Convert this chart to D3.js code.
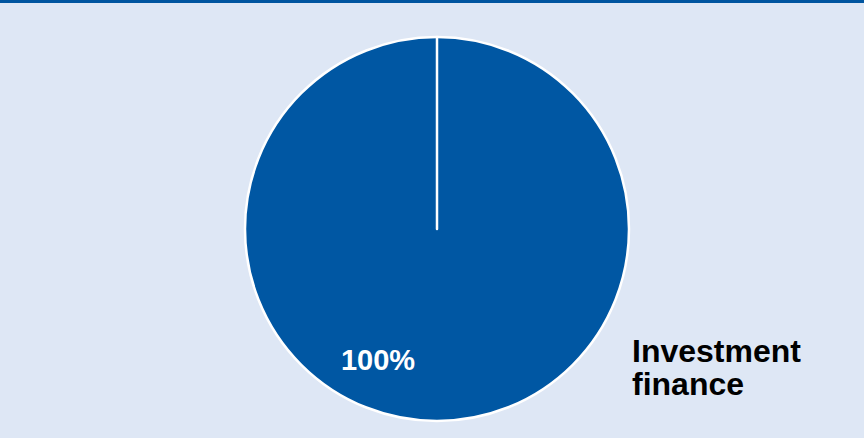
<!DOCTYPE html>
<html>
<head>
<meta charset="utf-8">
<script src="https://cdn.jsdelivr.net/npm/d3@7"></script>
<style>
  html, body { margin: 0; padding: 0; background: #dee7f5; }
  #chart { width: 864px; height: 438px; }
</style>
</head>
<body>
<div id="chart"></div>
<script>
const categories = ["Investment finance"];
const values = [100];
const labels = ["100%"];

const width = 864, height = 438;
const cx = 437, cy = 229, radius = 192;

const svg = d3.select("#chart").append("svg")
  .attr("width", width)
  .attr("height", height);

svg.append("rect")
  .attr("width", width)
  .attr("height", height)
  .attr("fill", "#dee7f5");

// top rule
svg.append("rect")
  .attr("width", width)
  .attr("height", 3)
  .attr("fill", "#0055a0");

const data = categories.map((c, i) => ({ name: c, value: values[i], label: labels[i] }));

const pie = d3.pie().sort(null).value(d => d.value);
const arc = d3.arc().innerRadius(0).outerRadius(radius);

const g = svg.append("g").attr("transform", `translate(${cx},${cy})`);

const slices = pie(data);

g.selectAll("path.slice")
  .data(slices)
  .enter()
  .append("path")
  .attr("class", "slice")
  .attr("d", arc)
  .attr("fill", "#0057a3")
  .attr("stroke", "#fff")
  .attr("stroke-width", 2.5);

// slice boundaries (radial edges)
g.selectAll("line.edge")
  .data(slices)
  .enter()
  .append("line")
  .attr("class", "edge")
  .attr("x1", 0).attr("y1", 0)
  .attr("x2", d => d3.pointRadial(d.startAngle, radius)[0])
  .attr("y2", d => d3.pointRadial(d.startAngle, radius)[1])
  .attr("stroke", "#fff")
  .attr("stroke-width", 2.5)
  .attr("stroke-linecap", "round");

// value label inside slice
g.selectAll("text.val")
  .data(slices)
  .enter()
  .append("text")
  .attr("class", "val")
  .attr("x", -59)
  .attr("y", 131)
  .attr("dy", "0.35em")
  .attr("text-anchor", "middle")
  .style("font-family", "'Liberation Sans', Arial, sans-serif")
  .style("font-weight", "bold")
  .style("font-size", "29px")
  .style("fill", "#fff")
  .text(d => d.data.label);

// category label
const cat = svg.append("text")
  .attr("x", 632)
  .attr("y", 362)
  .style("font-family", "'Liberation Sans', Arial, sans-serif")
  .style("font-weight", "bold")
  .style("font-size", "32px")
  .style("fill", "#000");

const words = categories[0].split(" ");
words.forEach((w, i) => {
  cat.append("tspan")
    .attr("x", 632)
    .attr("dy", i === 0 ? 0 : 33)
    .text(w);
});
</script>
</body>
</html>
